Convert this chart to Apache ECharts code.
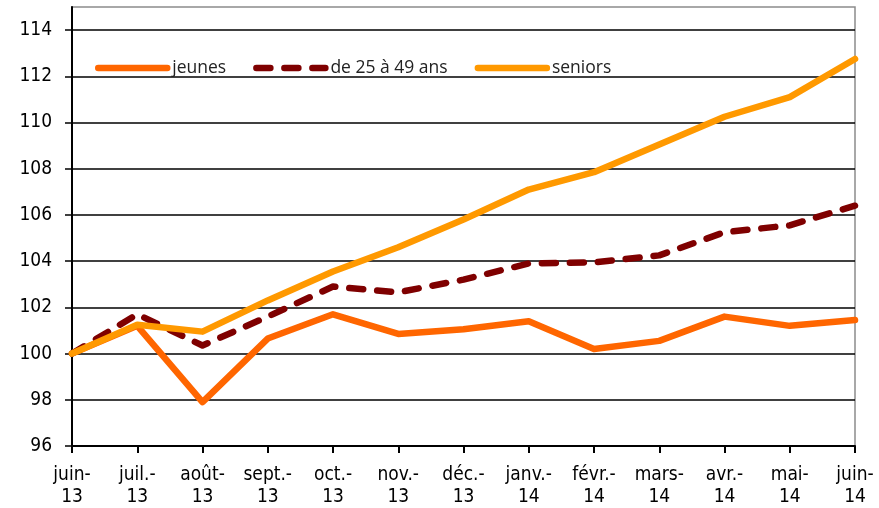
<!DOCTYPE html>
<html>
<head>
<meta charset="utf-8">
<title>Indices par âge</title>
<script src="https://cdn.jsdelivr.net/npm/echarts@6/dist/echarts.min.js"></script>
<style>
  html, body { margin: 0; padding: 0; background: #ffffff; }
  #chart { width: 879px; height: 508px; }
</style>
</head>
<body>
<div id="chart"></div>
<script>
// Months, June 2013 to June 2014 (base 100 = juin-13)
const categories = [
  'juin-\n13', 'juil.-\n13', 'août-\n13', 'sept.-\n13', 'oct.-\n13', 'nov.-\n13',
  'déc.-\n13', 'janv.-\n14', 'févr.-\n14', 'mars-\n14', 'avr.-\n14', 'mai-\n14', 'juin-\n14'
];

const jeunes = [100, 101.2, 97.9, 100.65, 101.7, 100.85, 101.05, 101.4, 100.2, 100.55, 101.6, 101.2, 101.45];
const age25a49 = [100, 101.7, 100.35, 101.6, 102.9, 102.65, 103.2, 103.9, 103.95, 104.25, 105.25, 105.55, 106.4];
const seniors = [100, 101.25, 100.95, 102.3, 103.55, 104.6, 105.8, 107.1, 107.85, 109.05, 110.25, 111.1, 112.75];

const seriesNames = ['jeunes', 'de 25 à 49 ans', 'seniors'];

// Value axis: labelled ticks every 2 from 96 to 114, the frame top sits at 115
const yMin = 96;
const yMax = 115;
const yStep = 2;
const yTicks = [96, 98, 100, 102, 104, 106, 108, 110, 112, 114];

const chart = echarts.init(document.getElementById('chart'), null, { renderer: 'canvas' });

const axisFont = { fontFamily: '"DejaVu Sans Condensed", "DejaVu Sans", sans-serif', fontSize: 19, color: '#000' };

// split lines: black at each labelled tick, grey along the frame top
const splitColors = yTicks.map(function () { return '#000'; });
splitColors.push('#8c8c8c');

chart.setOption({
  animation: false,
  backgroundColor: '#ffffff',
  grid: {
    left: 72, right: 24, top: 7, bottom: 62,
    show: true, borderColor: '#8c8c8c', borderWidth: 1.5
  },
  legend: {
    left: 90, top: 54,
    itemWidth: 69, itemHeight: 14, itemGap: 27,
    itemStyle: { opacity: 0 },
    lineStyle: { width: 6.5, cap: 'round' },
    textStyle: { fontFamily: 'Open Sans', fontSize: 17.5, color: '#222' },
    data: seriesNames
  },
  xAxis: {
    type: 'category',
    data: categories,
    boundaryGap: false,
    axisLine: { lineStyle: { color: '#000', width: 2 } },
    axisTick: { show: true, alignWithLabel: true, length: 7, lineStyle: { color: '#000', width: 2 } },
    axisLabel: Object.assign({ margin: 18, lineHeight: 22, interval: 0 }, axisFont),
    splitLine: { show: false }
  },
  yAxis: {
    type: 'value',
    min: yMin, max: yMax, interval: yStep,
    axisLine: { show: true, lineStyle: { color: '#000', width: 2 } },
    axisTick: { show: true, length: 7, customValues: yTicks, lineStyle: { color: '#000', width: 1.5 } },
    axisLabel: Object.assign({ margin: 20, customValues: yTicks }, axisFont),
    splitLine: { show: true, lineStyle: { color: splitColors, width: 1.5 } }
  },
  series: [
    {
      name: seriesNames[0], type: 'line', data: jeunes,
      symbol: 'none', z: 3,
      lineStyle: { color: '#ff6600', width: 6.5, cap: 'round', join: 'round' },
      itemStyle: { color: '#ff6600' }
    },
    {
      name: seriesNames[1], type: 'line', data: age25a49,
      symbol: 'none', z: 4,
      lineStyle: { color: '#7f0000', width: 6.5, type: [14, 14], cap: 'round', join: 'round' },
      itemStyle: { color: '#7f0000' }
    },
    {
      name: seriesNames[2], type: 'line', data: seniors,
      symbol: 'none', z: 5,
      lineStyle: { color: '#ff9900', width: 6.5, cap: 'round', join: 'round' },
      itemStyle: { color: '#ff9900' }
    }
  ]
});
</script>
</body>
</html>
